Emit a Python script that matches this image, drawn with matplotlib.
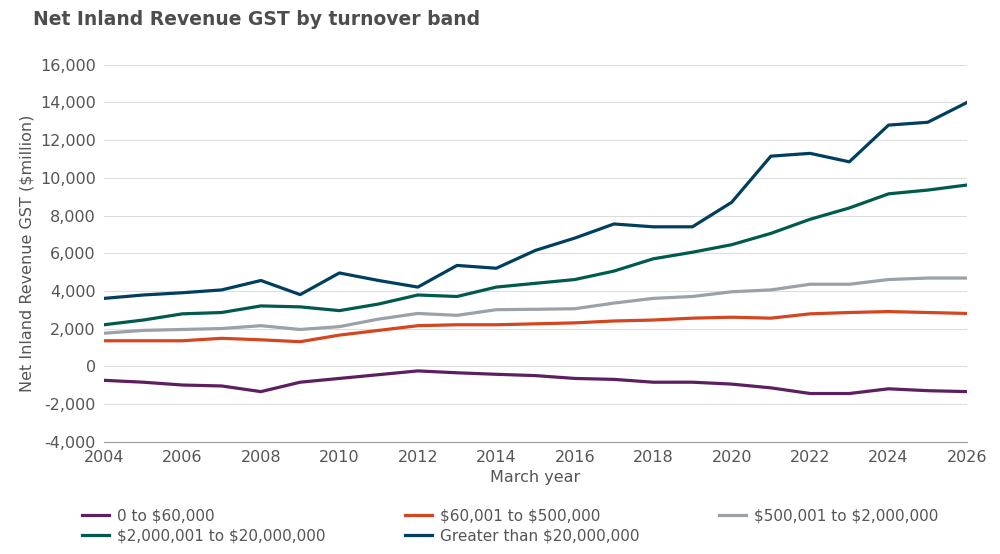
import matplotlib
matplotlib.use("Agg")
import matplotlib.pyplot as plt

years = list(range(2004, 2027))
s_0_60k = [-750,-850,-1000,-1050,-1350,-850,-650,-450,-250,-350,-430,-500,-650,-700,-850,-850,-950,-1150,-1450,-1450,-1200,-1300,-1350]
s_60k_500k = [1350,1350,1350,1480,1400,1300,1650,1900,2150,2200,2200,2250,2300,2400,2450,2550,2600,2550,2780,2850,2900,2850,2800]
s_500k_2m = [1750,1900,1950,2000,2150,1950,2100,2500,2800,2700,3000,3020,3050,3350,3600,3700,3950,4050,4350,4350,4600,4680,4680]
s_2m_20m = [2200,2450,2780,2850,3200,3150,2950,3300,3780,3700,4200,4400,4600,5050,5700,6050,6450,7050,7800,8400,9150,9350,9620]
s_20m = [3600,3780,3900,4050,4550,3800,4950,4550,4200,5350,5200,6150,6800,7550,7400,7400,8700,11150,11300,10850,12800,12950,14000]

series = [
    ("0 to \\$60,000", s_0_60k, "#5c1f5f"),
    ("\\$60,001 to \\$500,000", s_60k_500k, "#d4461f"),
    ("\\$500,001 to \\$2,000,000", s_500k_2m, "#9ba1a8"),
    ("\\$2,000,001 to \\$20,000,000", s_2m_20m, "#005a4e"),
    ("Greater than \\$20,000,000", s_20m, "#003f5e"),
]

plt.rcParams['font.family'] = ['DejaVu Sans']
fig = plt.figure(figsize=(10, 5.54), dpi=100)
ax = fig.add_axes([0.104, 0.203, 0.863, 0.68])
handles = []
for name, vals, c in series:
    h, = ax.plot(years, vals, color=c, lw=2.3, label=name)
    handles.append(h)
ax.set_xlim(2004, 2026)
ax.set_ylim(-4000, 16000)
ax.set_xticks(range(2004, 2027, 2))
ax.set_yticks(range(-4000, 16001, 2000))
ax.set_yticklabels([f"{v:,}" for v in range(-4000, 16001, 2000)])
ax.grid(axis='y', color='#dddddd', lw=0.8)
ax.set_axisbelow(True)
for sp in ['top', 'right', 'left']:
    ax.spines[sp].set_visible(False)
ax.spines['bottom'].set_color('#999999')
ax.tick_params(axis='both', length=0, labelsize=11.5, colors='#555555', pad=6)
ax.set_xlabel("March year", fontsize=11.5, color='#555555')
ax.set_ylabel("Net Inland Revenue GST ($million)", fontsize=11.5, color='#555555')
fig.text(0.033, 0.955, "Net Inland Revenue GST by turnover band", fontsize=13.5,
         fontweight='bold', color='#4d4d4d')
order = [0, 3, 1, 4, 2]
fig.legend([handles[i] for i in order], [series[i][0] for i in order],
           loc='lower left', bbox_to_anchor=(0.068, -0.005), ncol=3, frameon=False,
           fontsize=11, labelcolor='#555555', handlelength=1.8, columnspacing=5.2,
           labelspacing=0.3, handletextpad=0.5)
fig.savefig("out.png")
